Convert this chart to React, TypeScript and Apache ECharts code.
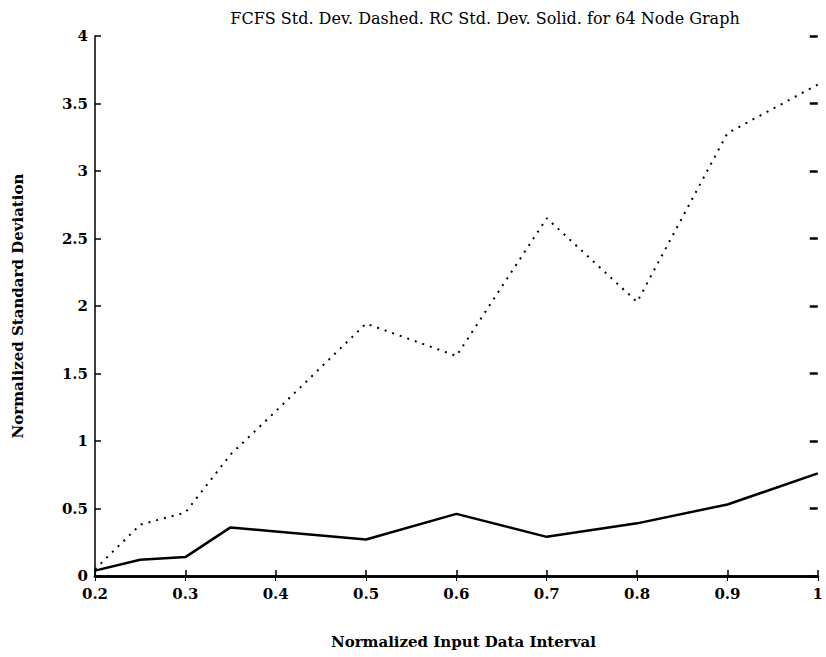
import React, { useEffect, useRef } from "react";
import * as echarts from "echarts";

const xValues = [0.2, 0.25, 0.3, 0.35, 0.4, 0.5, 0.6, 0.7, 0.8, 0.9, 1.0];
const fcfsStd = [0.05, 0.38, 0.47, 0.9, 1.22, 1.87, 1.63, 2.65, 2.03, 3.28, 3.64];
const rcStd = [0.04, 0.12, 0.14, 0.36, 0.33, 0.27, 0.46, 0.29, 0.39, 0.53, 0.76];
const titleText = "FCFS Std. Dev. Dashed. RC Std. Dev. Solid. for 64 Node Graph";
const xName = "Normalized Input Data Interval";
const yName = "Normalized Standard Deviation";

const FONT = "DejaVu Serif";

export default function App() {
  const ref = useRef<HTMLDivElement>(null);
  useEffect(() => {
    if (!ref.current) return;
    const chart = echarts.init(ref.current, undefined, { renderer: "svg" });
    const pair = (ys: number[]) => xValues.map((x, i) => [x, ys[i]]);
    const axisLine = { show: true, lineStyle: { color: "#000", width: 2.5 } };
    chart.setOption({
      animation: false,
      backgroundColor: "#fff",
      title: {
        text: titleText,
        left: 480,
        textAlign: "center",
        top: 5,
        textStyle: { fontFamily: FONT, fontSize: 16, fontWeight: "normal", color: "#000" },
      },
      grid: { left: 95, right: 2, top: 36, bottom: 81, containLabel: false },
      xAxis: [
        {
          type: "value",
          min: 0.2,
          max: 1,
          interval: 0.1,
          position: "bottom",
          axisLine,
          axisTick: { show: true, inside: true, length: 6, lineStyle: { color: "#000", width: 1.5 } },
          splitLine: { show: false },
          axisLabel: {
            margin: 10,
            fontFamily: FONT,
            fontSize: 15,
            fontWeight: "bold",
            color: "#000",
            formatter: (v: number) => (Math.abs(v - 1) < 1e-9 ? "1" : v.toFixed(1)),
          },
          name: xName,
          nameLocation: "middle",
          nameGap: 58,
          nameTextStyle: { fontFamily: FONT, fontSize: 15, fontWeight: "bold", color: "#000", padding: [0, 0, 0, 14] },
        },
        {
          type: "value",
          min: 0.2,
          max: 1,
          interval: 0.1,
          position: "top",
          axisLine,
          axisTick: { show: true, inside: true, length: 5, lineStyle: { color: "#000", width: 1 } },
          axisLabel: { show: false },
          splitLine: { show: false },
        },
      ],
      yAxis: [
        {
          type: "value",
          min: 0,
          max: 4,
          interval: 0.5,
          position: "left",
          axisLine: { show: true, lineStyle: { color: "#000", width: 1.5 } },
          axisTick: { show: true, inside: true, length: 6, lineStyle: { color: "#000", width: 1.5 } },
          splitLine: { show: false },
          axisLabel: {
            margin: 7,
            fontFamily: FONT,
            fontSize: 15,
            fontWeight: "bold",
            color: "#000",
            formatter: (v: number) => String(v),
          },
          name: yName,
          nameLocation: "middle",
          nameGap: 70,
          nameRotate: 90,
          nameTextStyle: { fontFamily: FONT, fontSize: 15, fontWeight: "bold", color: "#000" },
        },
        {
          type: "value",
          min: 0,
          max: 4,
          interval: 0.5,
          position: "right",
          axisLine: { show: false },
          axisTick: { show: true, inside: true, length: 8, lineStyle: { color: "#000", width: 2.5 } },
          axisLabel: { show: false },
          splitLine: { show: false },
        },
      ],
      series: [
        {
          type: "line",
          name: "FCFS",
          data: pair(fcfsStd),
          showSymbol: false,
          lineStyle: { color: "#000", width: 2, type: [2, 6] },
        },
        {
          type: "line",
          name: "RC",
          data: pair(rcStd),
          showSymbol: false,
          lineStyle: { color: "#000", width: 2.5, type: "solid" },
        },
      ],
    });
    return () => chart.dispose();
  }, []);
  return <div ref={ref} style={{ width: 826, height: 657, position: "absolute", left: 0, top: 0 }} />;
}
